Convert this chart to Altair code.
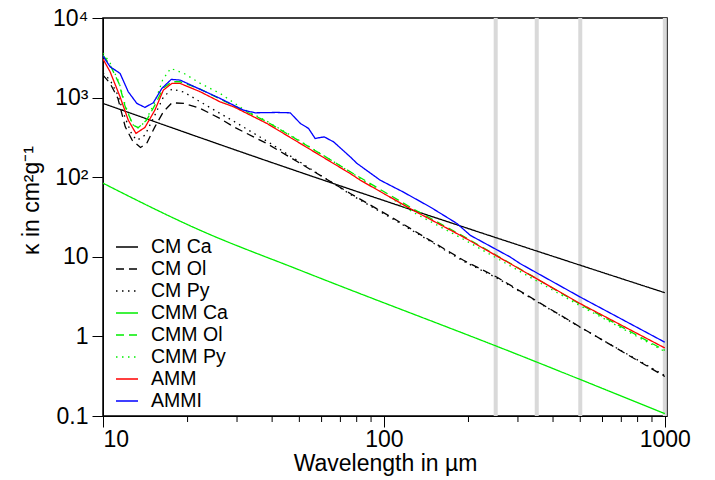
import altair as alt
import pandas as pd

series_names = ["CM Ca", "CM Ol", "CM Py", "CMM Ca", "CMM Ol", "CMM Py", "AMM", "AMMI"]
series_colors = ["#000000", "#000000", "#000000", "#00ee00", "#00ee00", "#00ee00", "#ff0000", "#0000ff"]
series_dash = [[1, 0], [8, 5], [1.5, 4.5], [1, 0], [8, 5], [1.5, 4.5], [1, 0], [1, 0]]
smooth_series = ["CM Ca", "CMM Ca"]

cm_ca_x = [10, 33.5, 1000]
cm_ca_y = [845, 189, 3.54]

cmm_ca_x = [10, 22.2, 50.4, 305, 1000]
cmm_ca_y = [84.1, 21.5, 6.76, 0.577, 0.107]

cm_ol_x = [10, 10.6, 11.3, 12.0, 12.7, 13.6, 14.3, 15.3, 16.4, 17.6, 19.4, 22.2, 26.1, 29.2, 38.3, 50.4, 75.9, 111, 146, 192, 252, 500, 1000]
cm_ol_y = [1919, 1509, 977, 429, 292, 236, 265, 429, 662, 861, 845, 731, 547, 429, 265, 149, 62.4, 28.8, 16.1, 9.04, 5.57, 1.31, 0.314]

cm_py_x = [10, 10.6, 11.3, 12.0, 12.7, 13.25, 14.1, 15.3, 16.4, 17.6, 19.4, 22.2, 26.1, 29.2, 38.3, 50.4, 75.9, 111, 146, 192, 252, 500, 1000]
cm_py_y = [2032, 1660, 1075, 552, 337, 292, 337, 603, 1014, 1280, 1172, 885, 632, 505, 284, 154, 61, 28, 15.7, 8.78, 5.44, 1.30, 0.323]

cmm_ol_x = [10, 10.6, 11.4, 12.0, 12.8, 13.35, 14.3, 15.3, 16.4, 17.6, 18.8, 22.2, 26.1, 38.3, 50.4, 75.9, 127, 192, 281.5, 500, 1000]
cmm_ol_y = [3426, 2564, 1509, 766, 451, 419, 521, 805, 1316, 1581, 1581, 1280, 957, 499, 280, 117, 40.1, 18.1, 8.3, 2.53, 0.667]

cmm_py_x = [10, 10.6, 11.4, 12.0, 12.7, 13.25, 14.1, 15.3, 16.3, 17.4, 19.4, 22.2, 26.1, 31.6, 38.3, 50.4, 75.9, 127, 192, 281.5, 500, 1000]
cmm_py_y = [3631, 2716, 1566, 805, 465, 413, 492, 877, 1660, 2330, 2016, 1509, 1129, 716, 505, 284, 116, 36.3, 16.6, 7.7, 2.42, 0.647]

amm_x = [10, 10.6, 11.5, 12.3, 13.1, 14.1, 15.3, 16.4, 17.6, 18.8, 22.2, 26.1, 29.2, 38.3, 50.4, 75.9, 82.4, 127, 192, 281.5, 500, 1000]
amm_y = [3050, 2111, 1023, 521, 355, 422, 696, 1243, 1509, 1509, 1183, 885, 766, 474, 265, 111, 91.7, 38.5, 17.7, 8.21, 2.58, 0.716]

ammi_x = [10, 10.6, 11.5, 12.3, 13.2, 14.1, 15.1, 16.2, 17.5, 18.8, 22.2, 26.1, 31.6, 34.8, 41.6, 46.4, 50.4, 53.9, 56.9, 61.3, 66.2, 75.9, 80.2, 97, 117, 146, 182, 203, 281.5, 305.5, 500, 1000]
ammi_y = [3327, 2440, 2016, 1183, 845, 753, 861, 1305, 1694, 1660, 1268, 977, 696, 644, 651, 644, 474, 410, 307, 321, 278, 180, 149, 91.7, 65.3, 42.3, 26.2, 18.6, 9.94, 8.21, 3.12, 0.845]

band_x = [250, 350, 500, 1000]
minor_ticks = [20, 30, 40, 50, 60, 70, 80, 90, 200, 300, 400, 500, 600, 700, 800, 900]

all_x = [cm_ca_x, cm_ol_x, cm_py_x, cmm_ca_x, cmm_ol_x, cmm_py_x, amm_x, ammi_x]
all_y = [cm_ca_y, cm_ol_y, cm_py_y, cmm_ca_y, cmm_ol_y, cmm_py_y, amm_y, ammi_y]

rows = []
for name, xs, ys in zip(series_names, all_x, all_y):
    for i, (a, b) in enumerate(zip(xs, ys)):
        rows.append({"series": name, "wl": a, "k": b, "order": i})
df = pd.DataFrame(rows)

W, H = 564, 398
FONT = "Liberation Sans"

xscale = alt.Scale(type="log", domain=[10, 1018], nice=False)
yscale = alt.Scale(type="log", domain=[0.1, 10000], nice=False)

bands = alt.Chart(pd.DataFrame({"wl": band_x})).mark_rule(
    color="#d9d9d9", strokeWidth=4
).encode(x=alt.X("wl:Q", scale=xscale))

minor = alt.Chart(pd.DataFrame({"wl": minor_ticks})).mark_rule(
    color="black", strokeWidth=1
).encode(x=alt.X("wl:Q", scale=xscale), y=alt.value(H), y2=alt.value(H + 6))

x_enc = alt.X("wl:Q", scale=xscale, title="Wavelength in µm",
              axis=alt.Axis(values=[10, 100, 1000], format="d", tickSize=11,
                            grid=False, labelFontSize=23, titleFontSize=23,
                            labelFont=FONT, titleFont=FONT, titleFontWeight="normal",
                            labelColor="black", titleColor="black",
                            domainColor="black", tickColor="black",
                            labelPadding=1, titlePadding=1))
y_enc = alt.Y("k:Q", scale=yscale, title="κ in cm²g⁻¹",
              axis=alt.Axis(values=[0.1, 1, 10, 100, 1000, 10000], format="~g",
                            labelExpr="datum.value >= 9999 ? '10⁴' : datum.value >= 999 ? '10³' : datum.value >= 99 ? '10²' : datum.label",
                            tickSize=11, grid=False, labelFontSize=23, titleFontSize=23,
                            labelFont=FONT, titleFont=FONT, titleFontWeight="normal",
                            labelColor="black", titleColor="black",
                            domainColor="black", tickColor="black",
                            labelPadding=4, titleX=-60, titleY=182))
color_enc = alt.Color("series:N", scale=alt.Scale(domain=series_names, range=series_colors),
                      sort=series_names,
                      legend=alt.Legend(title=None, orient="none", legendX=12, legendY=217,
                                        symbolType="stroke", symbolSize=484, symbolStrokeWidth=1.4,
                                        labelFontSize=19.5, labelFont=FONT, labelColor="black",
                                        labelOffset=12, rowPadding=-0.6, labelLimit=200))
dash_enc = alt.StrokeDash("series:N", scale=alt.Scale(domain=series_names, range=series_dash),
                          sort=series_names, legend=None)

base = alt.Chart(df).encode(x=x_enc, y=y_enc, color=color_enc, strokeDash=dash_enc,
                            order="order:Q", detail="series:N")

lines = base.mark_line(strokeWidth=1.3, clip=True).transform_filter(
    ~alt.FieldOneOfPredicate(field="series", oneOf=smooth_series))
smooth = base.mark_line(strokeWidth=1.3, clip=True, interpolate="monotone").transform_filter(
    alt.FieldOneOfPredicate(field="series", oneOf=smooth_series))

chart = alt.layer(bands, minor, smooth, lines).properties(
    width=W, height=H,
    padding={"left": 103, "top": 18, "right": 48, "bottom": 64},
    autosize=alt.AutoSizeParams(type="none"),
    background="white",
).configure_view(stroke="black", strokeWidth=1.5)

chart.save("out.html", embed_options={"renderer": "svg", "actions": False})
